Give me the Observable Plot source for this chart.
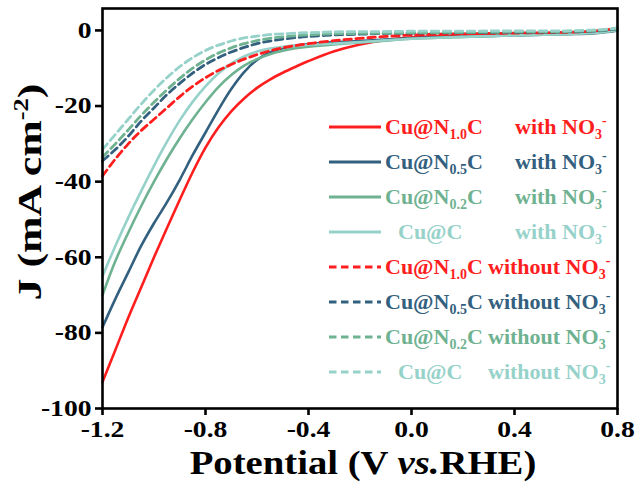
<!DOCTYPE html>
<html>
<head>
<meta charset="utf-8">
<script src="https://cdn.jsdelivr.net/npm/d3@7"></script>
<script src="https://cdn.jsdelivr.net/npm/@observablehq/plot@0.6"></script>
<style>
  html, body { margin: 0; padding: 0; background: #fff; }
  #chart { position: relative; width: 638px; height: 483px; }
</style>
</head>
<body>
<div id="chart"></div>
<script>
// Potential grid (V vs. RHE)
const potential = [-1.2,-1.15,-1.1,-1.05,-1.0,-0.95,-0.9,-0.85,-0.8,-0.75,-0.7,-0.65,-0.6,-0.55,-0.5,-0.45,-0.4,-0.3,-0.2,-0.1,0.0,0.2,0.4,0.6,0.7,0.75,0.8];

// Current density (mA cm^-2), with NO3-
const cuN10_with = [-93,-84.5,-76,-68,-60,-52.3,-44.8,-37.5,-31,-25.7,-21.4,-18,-15.2,-13,-11.2,-9.6,-8.1,-5.5,-3.7,-2.5,-1.8,-1.3,-1.1,-0.8,-0.5,-0.1,0.6];
const cuN05_with = [-78.5,-71,-64,-57,-51,-45.5,-39.5,-33,-27,-21,-15.5,-11,-7.8,-5.8,-4.7,-4.0,-3.6,-3.1,-2.8,-2.4,-2.0,-1.6,-1.3,-1.0,-0.8,-0.5,0.0];
const cuN02_with = [-70,-61,-53.5,-46.5,-40,-34,-28.5,-23.5,-19,-15,-11.8,-9.3,-7.6,-6.3,-5.4,-4.7,-4.3,-3.7,-3.2,-2.7,-2.2,-1.7,-1.3,-1.0,-0.7,-0.4,0.1];
const cuC_with   = [-65,-57,-49.5,-42.5,-35.8,-29.5,-23.8,-18.9,-14.8,-11.4,-8.8,-6.9,-5.6,-4.8,-4.3,-4.0,-3.8,-3.5,-3.1,-2.6,-2.2,-1.7,-1.3,-1.0,-0.7,-0.4,0.1];

// Current density (mA cm^-2), without NO3-
const cuN10_without = [-38.5,-34,-30,-26.5,-23.5,-20.5,-17.5,-14.8,-12.5,-10.6,-9,-7.6,-6.4,-5.4,-4.6,-4.0,-3.5,-2.7,-2.1,-1.6,-1.2,-0.9,-0.7,-0.5,-0.2,0.1,0.6];
const cuN05_without = [-34.5,-31.5,-28,-24,-20.5,-17,-14,-11.3,-9,-7.2,-5.7,-4.5,-3.5,-2.8,-2.3,-1.9,-1.6,-1.2,-1.0,-0.8,-0.7,-0.6,-0.5,-0.4,-0.2,0,0.4];
const cuN02_without = [-33.5,-30,-26.3,-22.5,-19,-15.7,-12.7,-10,-7.8,-6,-4.6,-3.5,-2.7,-2.1,-1.7,-1.4,-1.2,-0.9,-0.8,-0.7,-0.6,-0.5,-0.4,-0.3,-0.1,0.1,0.5];
const cuC_without   = [-31.5,-27.5,-23.5,-19.5,-15.8,-12.5,-9.6,-7.2,-5.3,-3.9,-2.8,-2.0,-1.5,-1.1,-0.9,-0.7,-0.6,-0.4,-0.3,-0.3,-0.2,-0.2,-0.1,-0.1,0.1,0.3,0.7];

// Series metadata
const catalystBase = ["Cu@N", "Cu@N", "Cu@N", "Cu@C"];
const catalystSub  = ["1.0", "0.5", "0.2", ""];
const catalystColors = ["#ff1e1e", "#33607e", "#6fb291", "#96d2ca"];
const conditions = ["with", "without"];
const withSeries = [cuN10_with, cuN05_with, cuN02_with, cuC_with];
const withoutSeries = [cuN10_without, cuN05_without, cuN02_without, cuC_without];

const xTicks = [-1.2, -0.8, -0.4, 0.0, 0.4, 0.8];
const yTicks = [0, -20, -40, -60, -80, -100];

// Long table
const rows = [];
[withSeries, withoutSeries].forEach((group, gi) => {
  group.forEach((vals, ci) => {
    vals.forEach((j, k) => rows.push({V: potential[k], J: j, cat: ci, cond: conditions[gi], key: conditions[gi] + ci}));
  });
});

const W = 638, H = 483;
const plot = Plot.plot({
  width: W,
  height: H,
  marginLeft: 102,
  marginRight: 21,
  marginTop: 8,
  marginBottom: 75,
  x: {domain: [-1.2, 0.8]},
  y: {domain: [-100, 5.8]},
  style: {fontFamily: "'Liberation Serif', 'Times New Roman', serif", background: "#fff", color: "#000"},
  marks: [
    Plot.line(rows.filter(d => d.cond === "with"), {
      x: "V", y: "J", z: "key",
      stroke: d => catalystColors[d.cat],
      strokeWidth: 2.6,
      curve: "catmull-rom"
    }),
    Plot.line(rows.filter(d => d.cond === "without"), {
      x: "V", y: "J", z: "key",
      stroke: d => catalystColors[d.cat],
      strokeWidth: 2.8,
      strokeDasharray: "7.5,4.5",
      curve: "catmull-rom"
    }),
    Plot.frame({stroke: "#000", strokeWidth: 2.6}),
    Plot.axisX({ticks: xTicks, tickFormat: d => d.toFixed(1), tickSize: 7, tickPadding: 5, strokeWidth: 2.6, fontSize: 23, fontWeight: "bold", label: null}),
    Plot.axisY({ticks: yTicks, tickFormat: d => String(d), tickSize: 7, tickPadding: 4, strokeWidth: 2.6, fontSize: 23, fontWeight: "bold", label: null})
  ]
});
document.getElementById("chart").appendChild(plot);

const svg = d3.select(plot);
const font = "'Liberation Serif', 'Times New Roman', serif";

// Slightly widen tick labels (reference glyphs are wider)
svg.selectAll("g[aria-label$='tick label'] text").each(function() {
  const w = this.getComputedTextLength();
  this.setAttribute("textLength", (w * 1.2).toFixed(1));
  this.setAttribute("lengthAdjust", "spacingAndGlyphs");
});

// X axis title
const xt = svg.append("text")
  .attr("x", 363).attr("y", 474)
  .attr("text-anchor", "middle")
  .attr("font-family", font).attr("font-weight", "bold").attr("font-size", 33).attr("fill", "#000");
xt.append("tspan").text("Potential (V ");
xt.append("tspan").attr("font-style", "italic").text("vs.");
xt.append("tspan").text("RHE)");
{
  const w = xt.node().getComputedTextLength();
  xt.attr("transform", `translate(363,0) scale(${(347 / w).toFixed(3)},1) translate(-363,0)`);
}

// Y axis title
const yt = svg.append("text")
  .attr("text-anchor", "middle")
  .attr("font-family", font).attr("font-weight", "bold").attr("font-size", 33).attr("fill", "#000");
yt.append("tspan").text("J (mA cm");
yt.append("tspan").attr("font-size", 20).attr("dy", -13).text("-2");
yt.append("tspan").attr("dy", 13).text(")");
{
  const w = yt.node().getComputedTextLength();
  yt.attr("transform", `translate(41,192) rotate(-90) scale(${(217 / w).toFixed(3)},1)`);
}

// Legend
const leg = svg.append("g").attr("font-family", font).attr("font-weight", "bold").attr("font-size", 22).attr("text-anchor", "start");
let row = 0;
conditions.forEach((cond, gi) => {
  catalystBase.forEach((base, ci) => {
    const cy = 127 + row * 35;
    const col = catalystColors[ci];
    leg.append("line").attr("x1", 329).attr("x2", 381).attr("y1", cy).attr("y2", cy)
      .attr("stroke", col).attr("stroke-width", gi === 0 ? 2.8 : 3)
      .attr("stroke-dasharray", gi === 0 ? null : "7.5,4.5");
    const t1 = leg.append("text").attr("x", catalystSub[ci] ? 385 : 398).attr("y", cy + 7).attr("fill", col);
    t1.append("tspan").text(base);
    if (catalystSub[ci]) {
      t1.append("tspan").attr("font-size", 14).attr("dy", 5).text(catalystSub[ci]);
      t1.append("tspan").attr("dy", -5).text("C");
    }
    const t2 = leg.append("text").attr("x", gi === 0 ? 515 : 488).attr("y", cy + 7).attr("fill", col);
    t2.append("tspan").text(cond + " NO");
    t2.append("tspan").attr("font-size", 14).attr("dy", 5).text("3");
    t2.append("tspan").attr("font-size", 14).attr("dy", -14).text("-");
    row++;
  });
});
</script>
</body>
</html>
